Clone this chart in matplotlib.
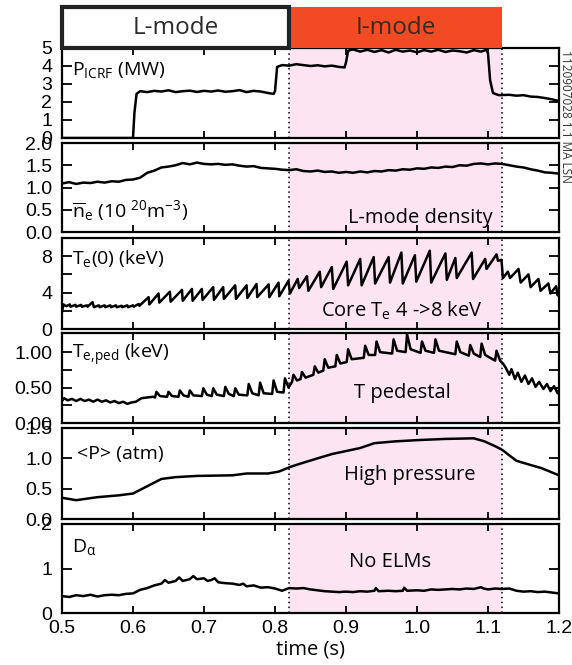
import matplotlib
matplotlib.use("Agg")
import matplotlib.pyplot as plt
from matplotlib.patches import Rectangle

plt.rcParams['font.family'] = ['Open Sans', 'DejaVu Sans']
plt.rcParams['mathtext.default'] = 'regular'

# phase boundaries (s)
t_LI = 0.82
t_IL = 1.12

xticks = [0.5, 0.6, 0.7, 0.8, 0.9, 1.0, 1.1, 1.2]
xlabels = ['0.5', '0.6', '0.7', '0.8', '0.9', '1.0', '1.1', '1.2']

# (time, value) pairs
picrf = [(0.500, 0.00), (0.600, 0.00), (0.602, 1.40), (0.605, 2.45), (0.610, 2.60), (0.620, 2.55),
         (0.630, 2.62), (0.640, 2.58), (0.650, 2.65), (0.660, 2.55), (0.670, 2.60), (0.680, 2.63),
         (0.690, 2.56), (0.700, 2.62), (0.710, 2.58), (0.720, 2.64), (0.730, 2.57), (0.740, 2.60),
         (0.750, 2.66), (0.760, 2.55), (0.770, 2.62), (0.780, 2.58), (0.790, 2.50), (0.798, 2.45),
         (0.800, 2.60), (0.803, 3.95), (0.810, 4.05), (0.820, 4.02), (0.830, 4.10), (0.840, 4.05),
         (0.850, 4.00), (0.860, 4.04), (0.870, 3.98), (0.880, 4.02), (0.890, 3.95), (0.898, 3.92),
         (0.900, 4.20), (0.903, 4.85), (0.910, 4.92), (0.920, 4.80), (0.930, 4.90), (0.940, 4.78),
         (0.950, 4.88), (0.960, 4.75), (0.970, 4.90), (0.980, 4.80), (0.990, 4.86), (1.000, 4.76),
         (1.010, 4.88), (1.020, 4.80), (1.030, 4.90), (1.040, 4.78), (1.050, 4.86), (1.060, 4.82),
         (1.070, 4.75), (1.080, 4.88), (1.090, 4.80), (1.098, 4.90), (1.100, 4.70), (1.103, 3.20),
         (1.107, 2.50), (1.115, 2.38), (1.130, 2.40), (1.140, 2.35), (1.150, 2.38), (1.160, 2.30),
         (1.170, 2.28), (1.180, 2.22), (1.190, 2.15), (1.200, 2.05)]

ne = [(0.500, 1.09), (0.510, 1.12), (0.520, 1.08), (0.530, 1.11), (0.540, 1.10), (0.550, 1.13),
      (0.560, 1.11), (0.570, 1.14), (0.580, 1.13), (0.590, 1.17), (0.600, 1.18), (0.610, 1.22),
      (0.620, 1.33), (0.630, 1.38), (0.640, 1.45), (0.650, 1.47), (0.660, 1.50), (0.670, 1.55),
      (0.680, 1.52), (0.690, 1.56), (0.700, 1.53), (0.710, 1.52), (0.720, 1.53), (0.730, 1.51),
      (0.740, 1.52), (0.750, 1.49), (0.760, 1.47), (0.770, 1.48), (0.780, 1.44), (0.790, 1.43),
      (0.800, 1.42), (0.810, 1.40), (0.820, 1.39), (0.830, 1.41), (0.840, 1.37), (0.850, 1.36),
      (0.860, 1.38), (0.870, 1.35), (0.880, 1.36), (0.890, 1.33), (0.900, 1.35), (0.910, 1.33),
      (0.920, 1.36), (0.930, 1.34), (0.940, 1.37), (0.950, 1.36), (0.960, 1.39), (0.970, 1.38),
      (0.980, 1.41), (0.990, 1.40), (1.000, 1.43), (1.010, 1.42), (1.020, 1.45), (1.030, 1.44),
      (1.040, 1.47), (1.050, 1.46), (1.060, 1.50), (1.070, 1.49), (1.080, 1.53), (1.090, 1.54),
      (1.100, 1.52), (1.110, 1.54), (1.120, 1.53), (1.130, 1.50), (1.140, 1.47), (1.150, 1.45),
      (1.160, 1.41), (1.170, 1.38), (1.180, 1.34), (1.190, 1.33), (1.200, 1.31)]

te0 = [(0.500, 1.9), (0.502, 2.7), (0.506, 2.5), (0.511, 2.7), (0.512, 2.45), (0.519, 2.65),
       (0.520, 2.45), (0.527, 2.65), (0.528, 2.45), (0.535, 2.6), (0.536, 2.45), (0.543, 2.95),
       (0.545, 2.4), (0.552, 2.6), (0.553, 2.4), (0.560, 2.6), (0.561, 2.4), (0.568, 2.6),
       (0.569, 2.4), (0.576, 2.6), (0.577, 2.4), (0.584, 2.55), (0.585, 2.4), (0.592, 2.6),
       (0.593, 2.4), (0.600, 2.6), (0.601, 2.45), (0.608, 2.75), (0.609, 2.55),
       (0.622, 3.5), (0.623, 2.7), (0.636, 3.9), (0.637, 2.9), (0.652, 4.1), (0.653, 3.0),
       (0.669, 4.3), (0.670, 3.1), (0.683, 4.4), (0.684, 3.1), (0.697, 4.4), (0.698, 3.2),
       (0.713, 4.6), (0.714, 3.2), (0.727, 4.6), (0.728, 3.3), (0.744, 4.8), (0.745, 3.3),
       (0.760, 4.8), (0.761, 3.4), (0.774, 4.95), (0.775, 3.5), (0.791, 4.9), (0.792, 3.5),
       (0.805, 5.1), (0.806, 3.6), (0.819, 5.3), (0.821, 3.9), (0.832, 5.5), (0.834, 4.5),
       (0.845, 5.8), (0.847, 4.2), (0.863, 6.3), (0.865, 4.6), (0.880, 6.8), (0.882, 4.4),
       (0.901, 7.4), (0.903, 4.8), (0.920, 7.7), (0.922, 4.8), (0.939, 7.9), (0.941, 5.0),
       (0.960, 7.9), (0.962, 5.1), (0.978, 8.4), (0.980, 5.0), (0.997, 8.1), (0.999, 5.2),
       (1.018, 8.6), (1.020, 5.1), (1.040, 8.3), (1.042, 5.4), (1.054, 7.8), (1.056, 5.6),
       (1.077, 8.4), (1.079, 5.5), (1.096, 7.7), (1.098, 6.6), (1.112, 8.2), (1.114, 7.5),
       (1.119, 7.6), (1.121, 5.6), (1.128, 6.3), (1.131, 5.6), (1.143, 6.6), (1.146, 5.1),
       (1.157, 6.0), (1.160, 4.6), (1.171, 5.5), (1.174, 4.2), (1.185, 5.0), (1.188, 3.9),
       (1.196, 4.7), (1.198, 3.7), (1.200, 4.0)]

teped = [(0.500, 0.31), (0.503, 0.35), (0.508, 0.32), (0.514, 0.34), (0.520, 0.31), (0.526, 0.34),
         (0.532, 0.31), (0.538, 0.33), (0.544, 0.30), (0.550, 0.33), (0.556, 0.30), (0.562, 0.32),
         (0.568, 0.29), (0.574, 0.31), (0.580, 0.28), (0.586, 0.30), (0.592, 0.27), (0.598, 0.29),
         (0.604, 0.30), (0.612, 0.35), (0.620, 0.36), (0.628, 0.37),
         (0.631, 0.36), (0.633, 0.44), (0.638, 0.38), (0.648, 0.37), (0.650, 0.44), (0.655, 0.38),
         (0.664, 0.37), (0.666, 0.46), (0.671, 0.39), (0.678, 0.37), (0.680, 0.46), (0.685, 0.39),
         (0.697, 0.38), (0.699, 0.49), (0.704, 0.40), (0.711, 0.38), (0.713, 0.49), (0.718, 0.40),
         (0.728, 0.38), (0.730, 0.51), (0.735, 0.41), (0.742, 0.38), (0.744, 0.49), (0.749, 0.40),
         (0.761, 0.39), (0.763, 0.55), (0.768, 0.42), (0.777, 0.39), (0.779, 0.57), (0.784, 0.42),
         (0.796, 0.41), (0.798, 0.60), (0.803, 0.44), (0.812, 0.43), (0.814, 0.63), (0.819, 0.50),
         (0.824, 0.58), (0.826, 0.68), (0.831, 0.60), (0.836, 0.62), (0.838, 0.72), (0.843, 0.64),
         (0.854, 0.68), (0.856, 0.80), (0.861, 0.71), (0.868, 0.74), (0.870, 0.90), (0.875, 0.78),
         (0.885, 0.80), (0.887, 0.96), (0.892, 0.84), (0.901, 0.86), (0.903, 1.04), (0.908, 0.90),
         (0.925, 0.92), (0.927, 1.09), (0.932, 0.96), (0.941, 0.96), (0.943, 1.15), (0.948, 1.00),
         (0.965, 0.98), (0.967, 1.18), (0.972, 1.02), (0.984, 1.00), (0.986, 1.25), (0.991, 1.04),
         (1.005, 0.99), (1.007, 1.15), (1.012, 1.02), (1.024, 0.99), (1.026, 1.18), (1.031, 1.02),
         (1.054, 0.97), (1.056, 1.15), (1.061, 1.00), (1.073, 0.95), (1.075, 1.10), (1.080, 0.98),
         (1.089, 0.93), (1.091, 1.12), (1.096, 0.96), (1.110, 0.88), (1.112, 1.02), (1.117, 0.88),
         (1.121, 0.84), (1.125, 0.78), (1.130, 0.68), (1.133, 0.76), (1.138, 0.62), (1.142, 0.71),
         (1.147, 0.58), (1.152, 0.67), (1.157, 0.55), (1.162, 0.63), (1.167, 0.51), (1.172, 0.58),
         (1.178, 0.48), (1.183, 0.55), (1.188, 0.45), (1.193, 0.52), (1.198, 0.42), (1.200, 0.46)]

pressure = [(0.500, 0.35), (0.520, 0.31), (0.550, 0.36), (0.580, 0.39), (0.600, 0.42), (0.620, 0.54),
            (0.640, 0.66), (0.660, 0.69), (0.690, 0.71), (0.740, 0.72), (0.760, 0.75), (0.790, 0.75),
            (0.805, 0.78), (0.822, 0.86), (0.835, 0.91), (0.860, 1.00), (0.880, 1.07), (0.900, 1.12),
            (0.920, 1.17), (0.940, 1.25), (0.970, 1.28), (1.000, 1.30), (1.040, 1.32), (1.080, 1.33),
            (1.095, 1.28), (1.110, 1.20), (1.120, 1.14), (1.140, 0.96), (1.160, 0.89), (1.175, 0.84),
            (1.200, 0.72)]

dalpha = [(0.500, 0.38), (0.510, 0.36), (0.520, 0.40), (0.530, 0.38), (0.540, 0.41), (0.550, 0.37),
          (0.560, 0.40), (0.570, 0.41), (0.580, 0.40), (0.590, 0.43), (0.600, 0.44), (0.610, 0.52),
          (0.620, 0.56), (0.630, 0.62), (0.640, 0.66), (0.645, 0.74), (0.650, 0.68), (0.660, 0.72),
          (0.665, 0.80), (0.670, 0.72), (0.680, 0.76), (0.685, 0.83), (0.690, 0.76), (0.700, 0.78),
          (0.705, 0.72), (0.710, 0.74), (0.715, 0.78), (0.720, 0.69), (0.730, 0.67), (0.740, 0.66),
          (0.750, 0.63), (0.755, 0.66), (0.760, 0.60), (0.770, 0.62), (0.780, 0.57), (0.790, 0.58),
          (0.800, 0.55), (0.810, 0.50), (0.820, 0.56), (0.830, 0.55), (0.840, 0.56), (0.850, 0.53),
          (0.860, 0.51), (0.870, 0.49), (0.880, 0.48), (0.890, 0.47), (0.900, 0.48), (0.910, 0.47),
          (0.920, 0.49), (0.930, 0.48), (0.940, 0.50), (0.942, 0.56), (0.946, 0.49), (0.960, 0.50),
          (0.970, 0.49), (0.980, 0.50), (0.982, 0.57), (0.986, 0.50), (1.000, 0.51), (1.010, 0.50),
          (1.020, 0.53), (1.030, 0.52), (1.040, 0.53), (1.050, 0.54), (1.060, 0.53), (1.070, 0.55),
          (1.080, 0.54), (1.090, 0.58), (1.094, 0.55), (1.100, 0.53), (1.110, 0.55), (1.120, 0.54),
          (1.130, 0.55), (1.140, 0.50), (1.150, 0.48), (1.160, 0.49), (1.170, 0.47), (1.180, 0.48),
          (1.190, 0.46), (1.200, 0.44)]

W, H = 572, 665
left, right = 62, 559
# (top px, bottom px) of each panel
rows = [(48, 138), (143, 232), (238, 329), (333, 423), (428, 519), (524, 613)]

pink = '#fce5f1'
tickfont = 'Liberation Sans'

fig = plt.figure(figsize=(W / 100, H / 100), dpi=100)


def panel(i, series, ylim, yticks, ylabels):
    top, bot = rows[i]
    ax = fig.add_axes([left / W, 1 - bot / H, (right - left) / W, (bot - top) / H])
    t, v = zip(*series)
    ax.axvspan(t_LI, t_IL, color=pink, lw=0, zorder=0)
    for tt in (t_LI, t_IL):
        ax.axvline(tt, color='k', ls=(0, (1, 2.2)), lw=1.1, zorder=1)
    ax.plot(t, v, color='k', lw=1.8, zorder=3)
    ax.set_xlim(0.5, 1.2)
    ax.set_ylim(*ylim)
    ax.set_xticks(xticks)
    ax.set_yticks(yticks)
    ax.set_yticklabels(ylabels, fontfamily=tickfont)
    ax.tick_params(direction='in', top=True, right=True, labelsize=14, width=1.3)
    ax.tick_params(axis='y', length=7, pad=7)
    ax.tick_params(axis='x', length=5, pad=5)
    if i < 5:
        ax.set_xticklabels([])
    else:
        ax.set_xticklabels(xlabels, fontfamily=tickfont)
    for s in ax.spines.values():
        s.set_linewidth(1.6)
    return ax


ax1 = panel(0, picrf, (0, 5), [0, 1, 2, 3, 4, 5], ['0', '1', '2', '3', '4', '5'])
ax2 = panel(1, ne, (0, 2), [0, 0.5, 1, 1.5, 2], ['0.0', '0.5', '1.0', '1.5', '2.0'])
ax3 = panel(2, te0, (0, 10), [0, 2, 4, 6, 8], ['0', '', '4', '', '8'])
ax4 = panel(3, teped, (0, 1.27), [0, 0.25, 0.5, 0.75, 1.0], ['0.00', '', '0.50', '', '1.00'])
ax5 = panel(4, pressure, (0, 1.5), [0, 0.5, 1, 1.5], ['0.0', '0.5', '1.0', '1.5'])
ax6 = panel(5, dalpha, (0, 2), [0, 1, 2], ['0', '1', '2'])

fs = 14
ax1.text(0.514, 3.75, 'P$_{ICRF}$ (MW)', va='center', fontsize=fs)
ax2.text(0.514, 0.49, r'$\overline{n}_e$ (10 $^{20}$m$^{-3}$)', va='center', fontsize=fs)
ax3.text(0.514, 7.8, 'T$_e$(0) (keV)', va='center', fontsize=fs)
ax4.text(0.514, 0.96, 'T$_{e{,}ped}$ (keV)', va='center', fontsize=fs)
ax5.text(0.521, 1.07, '<P> (atm)', va='center', fontsize=fs)
ax6.text(0.514, 1.49, 'D$_α$', va='center', fontsize=fs)

fa = 14.5
ax2.text(1.004, 0.31, 'L-mode density', ha='center', va='center', fontsize=fa)
ax3.text(0.979, 2.0, 'Core T$_e$ 4 ->8 keV', ha='center', va='center', fontsize=fa)
ax4.text(0.979, 0.42, 'T pedestal', ha='center', va='center', fontsize=fa)
ax5.text(0.99, 0.72, 'High pressure', ha='center', va='center', fontsize=fa)
ax6.text(0.962, 1.15, 'No ELMs', ha='center', va='center', fontsize=fa)
ax6.set_xlabel('time (s)', fontsize=14.5, labelpad=2)

# L-mode / I-mode header boxes
hdr = fig.add_axes([left / W, 1 - 48 / H, (right - left) / W, 41 / H])
hdr.set_xlim(0.5, 1.2)
hdr.set_ylim(0, 1)
hdr.axis('off')
hdr.add_patch(Rectangle((t_LI, 0), t_IL - t_LI, 1, facecolor='#f24a22', edgecolor='none'))
hdr.add_patch(Rectangle((0.5, 0), t_LI - 0.5, 1, facecolor='white', edgecolor='#222222', lw=3, clip_on=False))
hdr.text((0.5 + t_LI) / 2, 0.5, 'L-mode', ha='center', va='center', fontsize=17.5, color='#2a2a2a')
hdr.text((t_LI + t_IL) / 2, 0.5, 'I-mode', ha='center', va='center', fontsize=17.5, color='#3a2a25')

fig.text(566 / W, 1 - 50 / H, '1120907028 1.1 MA LSN', rotation=270, ha='center', va='top',
         fontsize=8.5, color='#333333')

fig.savefig('out.png', dpi=100)
